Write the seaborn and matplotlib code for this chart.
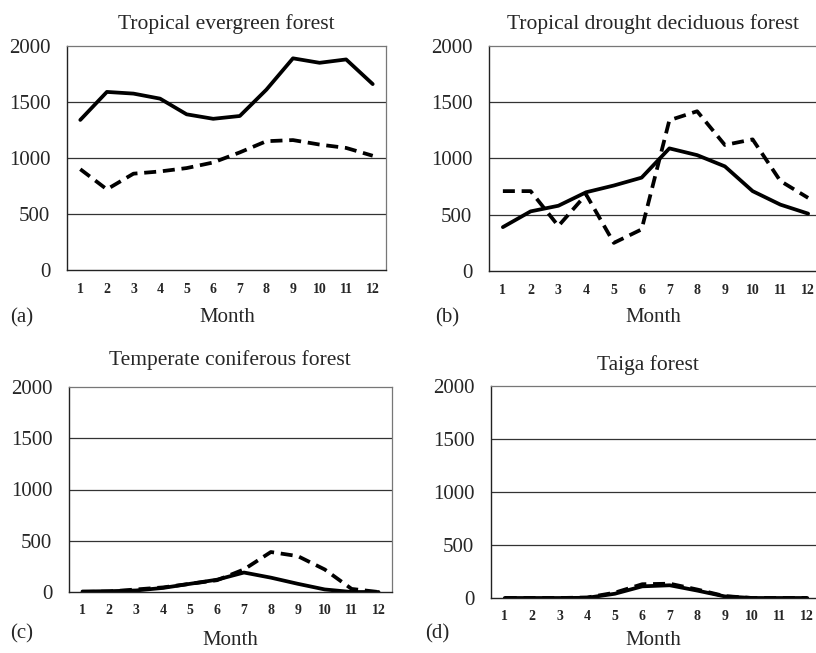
import matplotlib
matplotlib.use("Agg")
import matplotlib.pyplot as plt
import seaborn as sns
import pandas as pd

months = list(range(1, 13))
y_ticks = [0, 500, 1000, 1500, 2000]

titles = ["Tropical evergreen forest", "Tropical drought deciduous forest",
          "Temperate coniferous forest", "Taiga forest"]
panel_labels = ["(a)", "(b)", "(c)", "(d)"]

a_solid = [1340, 1590, 1575, 1530, 1390, 1350, 1375, 1610, 1890, 1850, 1880, 1660]
a_dashed = [900, 720, 860, 880, 910, 960, 1050, 1150, 1160, 1120, 1090, 1020]
b_solid = [390, 530, 580, 700, 760, 830, 1090, 1030, 930, 710, 590, 510]
b_dashed = [710, 710, 400, 680, 250, 370, 1340, 1420, 1120, 1170, 800, 650]
c_solid = [5, 8, 15, 40, 80, 120, 190, 140, 80, 25, 0, 0]
c_dashed = [0, 5, 25, 45, 80, 115, 220, 390, 350, 220, 30, 0]
d_solid = [0, 0, 0, 2, 40, 110, 120, 70, 15, 0, 0, 0]
d_dashed = [0, 0, 0, 5, 50, 130, 135, 80, 18, 0, 0, 0]

series = [(a_solid, a_dashed), (b_solid, b_dashed), (c_solid, c_dashed), (d_solid, d_dashed)]

sns.set_theme(style="white")
plt.rcParams['font.family'] = ['Liberation Serif', 'DejaVu Serif']

W, H = 816, 653
fig = plt.figure(figsize=(W / 100, H / 100), dpi=100)
fig.patch.set_facecolor("white")

# pixel boxes: left, right, top, bottom
boxes = [(67, 386, 46, 270), (489, 822, 46, 271), (69, 392, 387, 592), (491, 821, 386, 598)]
title_pos = [(226, 29), (653, 29), (230, 365), (648, 370)]
month_pos = [(227, 322), (653, 322), (230, 645), (653, 645)]
plab_pos = [(10, 322), (435, 322), (10, 638), (425, 638)]

for i in range(4):
    l, r, t, b = boxes[i]
    ax = fig.add_axes([l / W, 1 - b / H, (r - l) / W, (b - t) / H])
    solid, dashed = series[i]
    df = pd.DataFrame({
        "month": months * 2,
        "value": solid + dashed,
        "kind": ["solid"] * 12 + ["dashed"] * 12,
    })
    sns.lineplot(data=df, x="month", y="value", style="kind", color="black",
                 dashes={"solid": "", "dashed": (3.2, 1.8)}, linewidth=2.7,
                 legend=False, ax=ax)
    for yv in [500, 1000, 1500]:
        ax.axhline(yv, color="#333333", linewidth=0.9, zorder=0)
    ax.set_xlim(0.5, 12.5)
    ax.set_ylim(0, 2000)
    ax.set_xticks(months)
    ax.set_xticklabels([str(m) for m in months], fontsize=10, fontweight="bold")
    ax.set_yticks(y_ticks)
    ax.set_yticklabels([str(v) for v in y_ticks], fontsize=15)
    ax.tick_params(axis="both", length=0)
    ax.tick_params(axis="x", pad=9)
    ax.tick_params(axis="y", pad=12)
    ax.set_xlabel("")
    ax.set_ylabel("")
    ax.grid(False)
    for s in ["left", "bottom"]:
        ax.spines[s].set_color("#222222")
        ax.spines[s].set_linewidth(1.0)
    for s in ["top", "right"]:
        ax.spines[s].set_color("#777777")
        ax.spines[s].set_linewidth(0.9)
    tx, ty = title_pos[i]
    fig.text(tx / W, 1 - ty / H, titles[i], ha="center", va="baseline", fontsize=15.5)
    mx, my = month_pos[i]
    fig.text(mx / W, 1 - my / H, "Month", ha="center", va="baseline", fontsize=15)
    px, py = plab_pos[i]
    fig.text(px / W, 1 - py / H, panel_labels[i], ha="left", va="baseline", fontsize=15)

fig.savefig("out.png", dpi=100, facecolor="white")
